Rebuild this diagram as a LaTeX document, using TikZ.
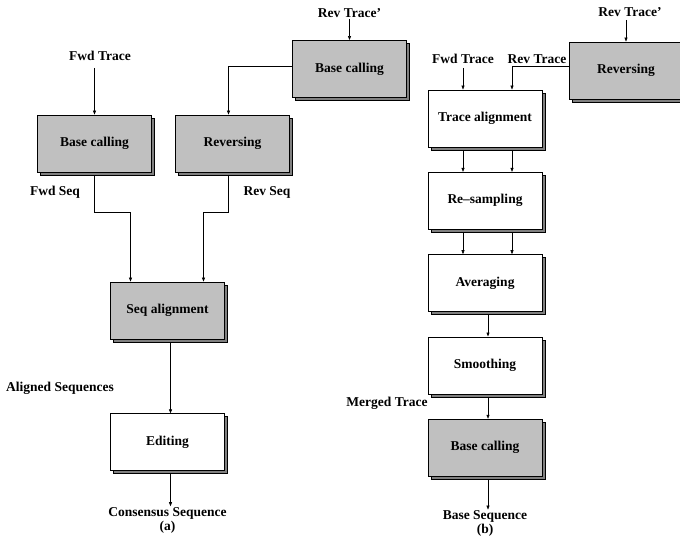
\documentclass[tikz,border=0pt]{standalone}
\usepackage{fontspec}
\setmainfont{Liberation Serif}
\usepackage{tikz}
\usetikzlibrary{positioning, arrows.meta, shadows}
\definecolor{boxgray}{RGB}{192,192,192}
\definecolor{shadowgray}{RGB}{128,128,128}

\begin{document}
\begin{tikzpicture}[
    x=1pt, y=-1pt,
    node distance=24.5pt,
    every node/.style={align=center, font=\bfseries\fontsize{13.5}{14}\selectfont},
    proc/.style={rectangle, draw, line width=0.8pt, fill=white, minimum width=114pt, minimum height=57pt,
        general shadow={fill=shadowgray, draw=black, line width=0.8pt, shadow xshift=3pt, shadow yshift=-3pt}},
    procg/.style={proc, fill=boxgray},
    lbl/.style={inner sep=1pt},
    arr/.style={-{Triangle[length=4pt,width=3pt]}, line width=0.6pt}
]
    \clip (0,0) rectangle (680,536);

    \node[procg] (bcfwd) at (94.5,143.5) {Base calling};
    \node[procg] (revb) at (232.5,143.5) {Reversing};
    \node[procg] (bcrev) at (349.5,69) {Base calling};
    \node[procg] (seqal) at (167.5,310.5) {Seq alignment};
    \node[proc, below=74pt of seqal] (edit) {Editing};

    \node[lbl] (ftra) at (100,56) {Fwd Trace};
    \node[lbl] (rtra) at (349.5,13) {Rev Trace'};
    \node[lbl] (fseq) at (55,192) {Fwd Seq};
    \node[lbl] (rseq) at (267,192) {Rev Seq};
    \node[lbl] (aseq) at (60,388) {Aligned Sequences};
    \node[lbl, below=35pt of edit] (cons) {Consensus Sequence\\(a)};

    \draw[arr, shorten <=6pt] (ftra.south -| bcfwd.north) -- (bcfwd.north);
    \draw[arr] (rtra) -- (bcrev);
    \draw[arr] ([yshift=3pt]bcrev.west) -| ([xshift=-4pt]revb.north);
    \draw[arr, shorten <=3pt] (bcfwd.south) -- ++(0,40) -| ([xshift=-37pt]seqal.north);
    \draw[arr, shorten <=3pt] ([xshift=-4pt]revb.south) -- ++(0,40) -| ([xshift=36pt]seqal.north);
    \draw[arr, shorten <=3pt] ([xshift=3pt]seqal.south) -- ([xshift=3pt]edit.north);
    \draw[arr, shorten <=3pt] ([xshift=3pt]edit.south) -- ([xshift=3pt]cons.north);

    \node[procg] (revr) at (626,70.5) {Reversing};
    \node[proc] (talign) at (485,118.5) {Trace alignment};
    \node[proc, below=of talign] (resamp) {Re--sampling};
    \node[proc, below=of resamp] (avg) {Averaging};
    \node[proc, below=of avg] (smooth) {Smoothing};
    \node[procg, below=of smooth] (bcall) {Base calling};

    \node[lbl] (rtrb) at (630,12) {Rev Trace'};
    \node[lbl] (ftrb) at (463,59) {Fwd Trace};
    \node[lbl] (rtrc) at (537,59) {Rev Trace};
    \node[lbl] (mtr) at (387,403) {Merged Trace};
    \node[lbl, below=33pt of bcall] (bseq) {Base Sequence\\(b)};

    \draw[arr, shorten <=2pt] (rtrb.south -| revr.north) -- (revr.north);
    \draw[arr, shorten <=3pt] (ftrb) -- (ftrb |- talign.north);
    \draw[arr] ([yshift=4pt]revr.west) -| ([xshift=27pt]talign.north);
    \draw[arr, shorten <=3pt] ([xshift=-22pt]talign.south) -- ([xshift=-22pt]resamp.north);
    \draw[arr, shorten <=3pt] ([xshift=27pt]talign.south) -- ([xshift=27pt]resamp.north);
    \draw[arr, shorten <=3pt] ([xshift=-22pt]resamp.south) -- ([xshift=-22pt]avg.north);
    \draw[arr, shorten <=3pt] ([xshift=27pt]resamp.south) -- ([xshift=27pt]avg.north);
    \draw[arr, shorten <=3pt] ([xshift=3pt]avg.south) -- ([xshift=3pt]smooth.north);
    \draw[arr, shorten <=3pt] ([xshift=3pt]smooth.south) -- ([xshift=3pt]bcall.north);
    \draw[arr, shorten <=3pt] ([xshift=3pt]bcall.south) -- ([xshift=3pt]bseq.north);
\end{tikzpicture}
\end{document}
